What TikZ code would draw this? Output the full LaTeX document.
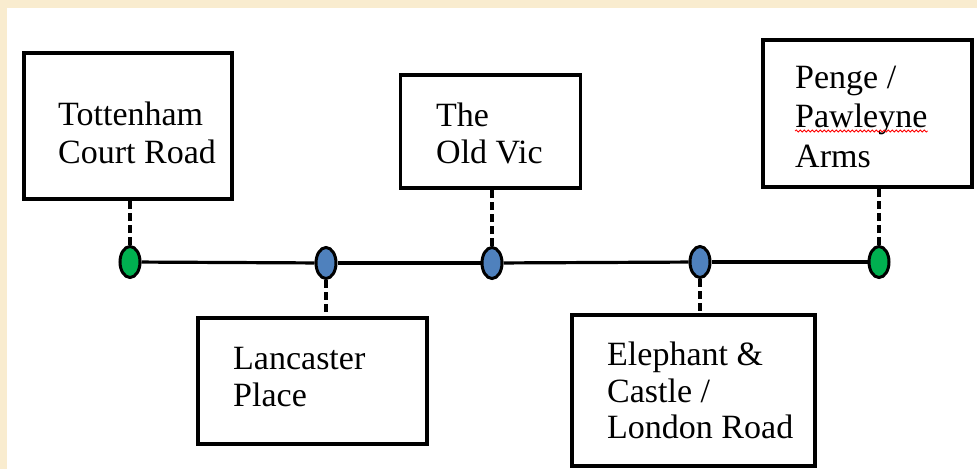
\documentclass[tikz,border=0pt]{standalone}
\usepackage{fontspec}
\setmainfont{Liberation Serif}
\usetikzlibrary{shapes.geometric,decorations.pathmorphing}

\definecolor{parchment}{HTML}{F9ECCF}
\definecolor{stopgreen}{HTML}{00B050}
\definecolor{stopblue}{HTML}{4F81BD}

\tikzset{
  stopbox/.style={draw=black, line width=3.6pt, fill=white, rectangle, inner sep=0pt},
  stopname/.style={anchor=base west, inner sep=0pt, font=\fontsize{34}{39}\selectfont},
  enddot/.style={ellipse, draw=black, line width=3pt, fill=stopgreen,
                 minimum width=20pt, minimum height=31pt, inner sep=0pt},
  middot/.style={enddot, fill=stopblue},
  track/.style={line width=3.2pt, black},
  stem/.style={line width=3.2pt, black, dash pattern=on 8pt off 4pt},
}

\begin{document}
\begin{tikzpicture}[x=1pt, y=-1pt]
  % page background and white panel
  \fill[parchment] (0,0) rectangle (977,469);
  \fill[white] (7,8) rectangle (977,469);
  \useasboundingbox (0,0) rectangle (977,469);

  % stop boxes
  \node[stopbox, minimum width=208pt, minimum height=146pt] (tcr) at (128,126) {};
  \node[stopbox, minimum width=229pt, minimum height=126pt] (lan) at (312.5,381) {};
  \node[stopbox, minimum width=180pt, minimum height=113pt] (vic) at (490.5,131.5) {};
  \node[stopbox, minimum width=243pt, minimum height=151pt] (ele) at (693.5,390.5) {};
  \node[stopbox, minimum width=209pt, minimum height=147pt] (pen) at (867.5,113.5) {};

  % stop names
  \node[stopname] (tcr1) at (58,125) {Tottenham};
  \node[stopname] (tcr2) at (58,163) {Court Road};
  \node[stopname] (lan1) at (233,369) {Lancaster};
  \node[stopname] (lan2) at (233,406) {Place};
  \node[stopname] (vic1) at (436,126) {The};
  \node[stopname] (vic2) at (436,163) {Old Vic};
  \node[stopname] (ele1) at (607,365) {Elephant \&};
  \node[stopname] (ele2) at (607,402) {Castle /};
  \node[stopname] (ele3) at (607,438) {London Road};
  \node[stopname] (pen1) at (795,88) {Penge /};
  \node[stopname] (pen2) at (795,127) {Pawleyne};
  \node[stopname] (pen3) at (795,167) {Arms};

  % spell-check underline
  \draw[red, line width=0.8pt, decorate,
        decoration={snake, amplitude=1pt, segment length=4pt}]
    ([yshift=-4pt]pen2.base west) -- ([yshift=-4pt]pen2.base east);

  % stops on the line
  \node[enddot] (d1) at (130,262) {};
  \node[middot] (d2) at (326,263) {};
  \node[middot] (d3) at (492,263) {};
  \node[middot] (d4) at (700,262) {};
  \node[enddot] (d5) at (879,262) {};

  % the route
  \draw[track] (d1) -- (d2);
  \draw[track] (d2) -- (d3);
  \draw[track] (d3) -- (d4);
  \draw[track] (d4) -- (d5);

  % dashed stems to the boxes
  \draw[stem] (d1) -- (d1 |- tcr.south);
  \draw[stem] (d2) -- (d2 |- lan.north);
  \draw[stem] (d3) -- (d3 |- vic.south);
  \draw[stem] (d4) -- (d4 |- ele.north);
  \draw[stem] (d5) -- (d5 |- pen.south);
\end{tikzpicture}
\end{document}
